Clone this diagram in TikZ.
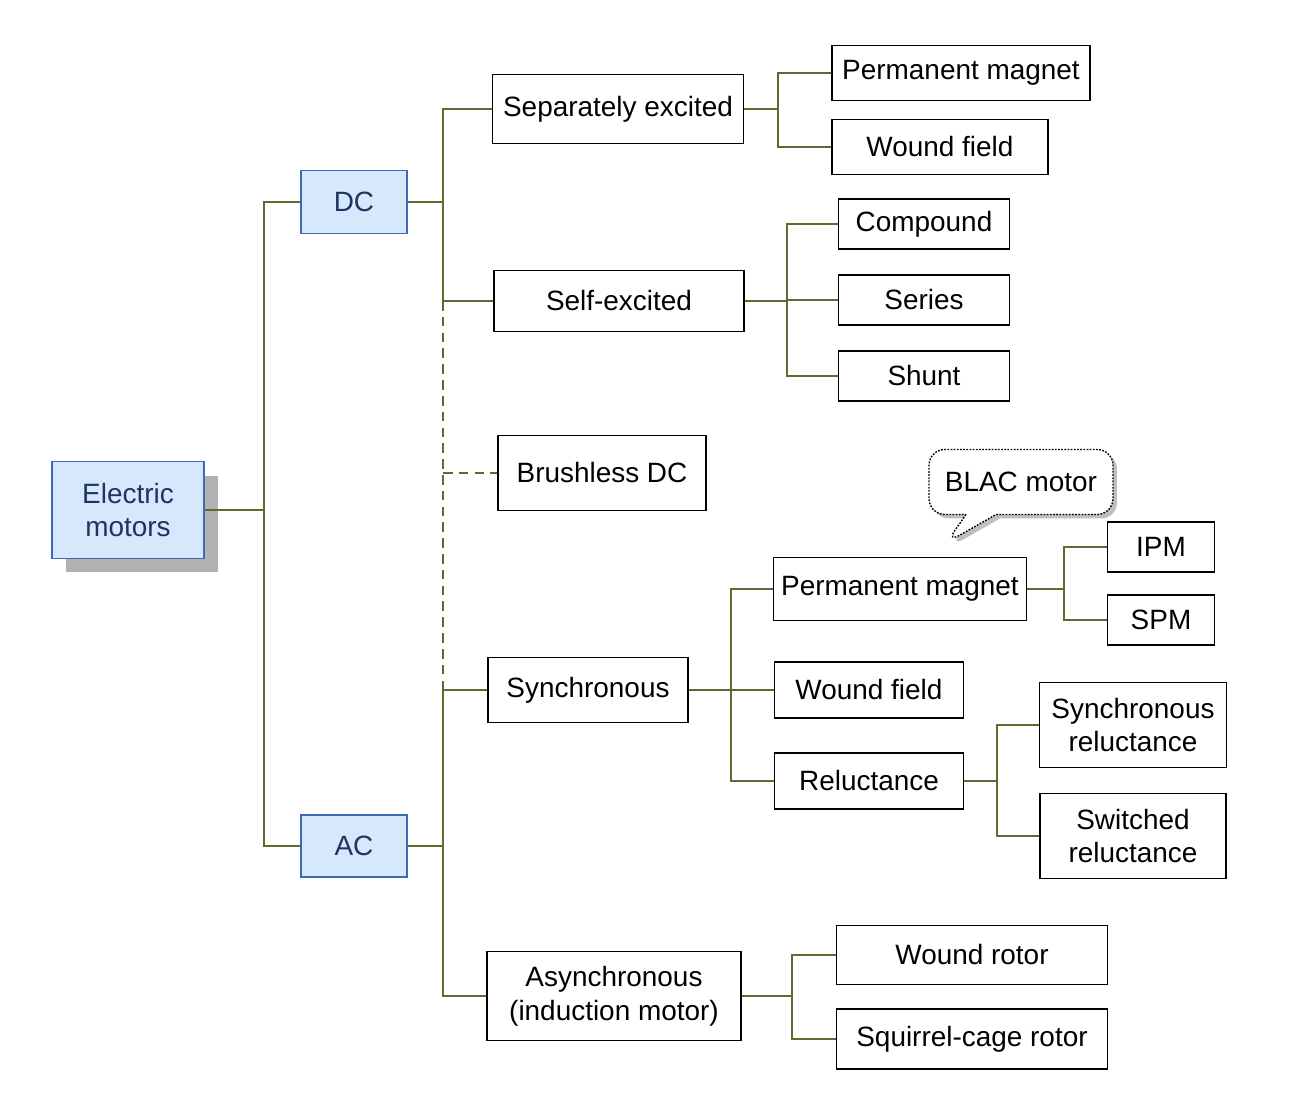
\documentclass[tikz,border=0pt]{standalone}
\usepackage{fontspec}
\setmainfont{Liberation Sans}
\usetikzlibrary{positioning, shapes.callouts, shadows}

\definecolor{branch}{RGB}{92,107,48}
\definecolor{catfill}{RGB}{213,232,252}
\definecolor{catline}{RGB}{60,106,184}
\definecolor{cattext}{RGB}{31,52,96}

\begin{document}
\begin{tikzpicture}[x=0.02cm, y=-0.02cm]
    \tikzstyle{box} = [draw, line width=0.8pt, inner sep=0pt, align=center, font=\fontsize{15.9}{19.3}\selectfont];
    \tikzstyle{cat} = [box, draw=catline, fill=catfill, text=cattext];
    \tikzstyle{link} = [draw=branch, line width=1.1pt];
    \tikzstyle{maybe} = [link, dash pattern=on 5.5pt off 3.5pt];
    \tikzstyle{note} = [box, rectangle callout, rounded corners=9pt, dash pattern=on 1pt off 0.8pt, fill=white,
        drop shadow={shadow xshift=0.08cm, shadow yshift=-0.08cm, fill=black!25, opacity=1}];

    \useasboundingbox (0,0) rectangle (1316,1098);

    \node[cat, minimum width=3.04cm, minimum height=1.94cm,
        drop shadow={shadow xshift=0.28cm, shadow yshift=-0.28cm, fill=black!30, opacity=1}]
        (root) at (128,510) {Electric\\motors};
    \node[cat, minimum width=2.12cm, minimum height=1.26cm] (dc) at (354,202) {DC};
    \node[cat, minimum width=2.12cm, minimum height=1.24cm] (ac) at (354,846) {AC};

    \node[box, minimum width=5.02cm, minimum height=1.38cm] (sepex) at (618,109) {Separately excited};
    \node[box, minimum width=5.00cm, minimum height=1.22cm] (selfex) at (619,301) {Self-excited};
    \node[box, minimum width=4.16cm, minimum height=1.50cm] (bldc) at (602,473) {Brushless DC};
    \node[box, minimum width=4.00cm, minimum height=1.30cm] (sync) at (588,690) {Synchronous};
    \node[box, minimum width=5.08cm, minimum height=1.78cm] (async) at (614,996) {Asynchronous\\(induction motor)};

    \node[box, minimum width=5.16cm, minimum height=1.10cm] (dcpm) at (961,73) {Permanent magnet};
    \node[box, minimum width=4.32cm, minimum height=1.10cm] (dcwf) at (940,147) {Wound field};

    \node[box, minimum width=3.42cm, minimum height=1.00cm] (compound) at (924,224) {Compound};
    \node[box, minimum width=3.42cm, minimum height=1.00cm] (series) at (924,300) {Series};
    \node[box, minimum width=3.42cm, minimum height=1.00cm] (shunt) at (924,376) {Shunt};

    \node[box, minimum width=5.06cm, minimum height=1.26cm] (pm) at (900,589) {Permanent magnet};
    \node[box, minimum width=3.78cm, minimum height=1.12cm] (wf) at (869,690) {Wound field};
    \node[box, minimum width=3.78cm, minimum height=1.12cm] (rel) at (869,781) {Reluctance};

    \node[box, minimum width=2.14cm, minimum height=1.00cm] (ipm) at (1161,547) {IPM};
    \node[box, minimum width=2.14cm, minimum height=1.00cm] (spm) at (1161,620) {SPM};
    \node[box, minimum width=3.74cm, minimum height=1.70cm] (synrel) at (1133,725) {Synchronous\\reluctance};
    \node[box, minimum width=3.72cm, minimum height=1.70cm] (swrel) at (1133,836) {Switched\\reluctance};

    \node[box, minimum width=5.42cm, minimum height=1.18cm] (wr) at (972,955) {Wound rotor};
    \node[box, minimum width=5.42cm, minimum height=1.20cm] (scr) at (972,1039) {Squirrel-cage rotor};

    \node[note, minimum width=3.68cm, minimum height=1.30cm, callout absolute pointer={(946,543)},
        callout pointer width=0.6cm] (blac) at (1021,482) {BLAC motor};

    \coordinate (rootbus) at (264,510);
    \coordinate (dcbus) at (443,202);
    \coordinate (acbus) at (443,846);
    \coordinate (sepbus) at (778,109);
    \coordinate (selfbus) at (787,301);
    \coordinate (syncbus) at (731,690);
    \coordinate (pmbus) at (1064,589);
    \coordinate (relbus) at (997,781);
    \coordinate (asyncbus) at (792,996);

    \draw[link, line width=0.6pt] (root.east) -- (rootbus);
    \draw[link] (rootbus) |- (dc.west);
    \draw[link] (rootbus) |- (ac.west);

    \draw[link] (dc.east) -- (dcbus);
    \draw[link] (dcbus) |- (sepex.west);
    \draw[link] (dcbus) |- (selfex.west);
    \draw[maybe] (selfex.west -| dcbus) -- (sync.west -| dcbus);
    \draw[maybe] (bldc.west -| dcbus) -- (bldc.west);

    \draw[link] (ac.east) -- (acbus);
    \draw[link] (acbus) |- (sync.west);
    \draw[link] (acbus) |- (async.west);

    \draw[link] (sepex.east) -- (sepbus);
    \draw[link] (sepbus) |- (dcpm.west);
    \draw[link] (sepbus) |- (dcwf.west);

    \draw[link] (selfex.east) -- (selfex.east -| selfbus);
    \draw[link] (selfbus) |- (compound.west);
    \draw[link] (selfbus) |- (series.west);
    \draw[link] (selfbus) |- (shunt.west);

    \draw[link] (sync.east) -- (syncbus);
    \draw[link] (syncbus) |- (pm.west);
    \draw[link] (syncbus) |- (wf.west);
    \draw[link] (syncbus) |- (rel.west);

    \draw[link] (pm.east) -- (pmbus);
    \draw[link] (pmbus) |- (ipm.west);
    \draw[link] (pmbus) |- (spm.west);

    \draw[link] (rel.east) -- (relbus);
    \draw[link] (relbus) |- (synrel.west);
    \draw[link] (relbus) |- (swrel.west);

    \draw[link] (async.east) -- (asyncbus);
    \draw[link] (asyncbus) |- (wr.west);
    \draw[link] (asyncbus) |- (scr.west);
\end{tikzpicture}
\end{document}
